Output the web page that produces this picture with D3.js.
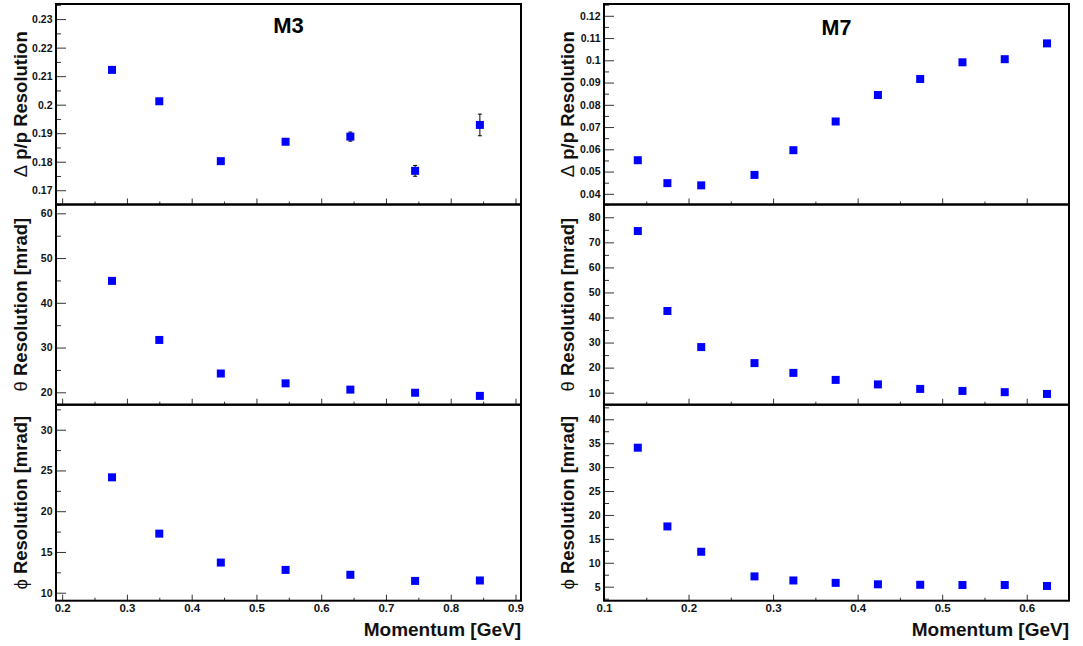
<!DOCTYPE html>
<html>
<head>
<meta charset="utf-8">
<script src="https://cdn.jsdelivr.net/npm/d3@7"></script>
<style>
  html, body { margin: 0; padding: 0; background: #fff; }
  svg { display: block; font-family: "Liberation Sans", Arial, Helvetica, sans-serif; }
</style>
</head>
<body>
<svg id="chart" width="1083" height="646"></svg>
<script>
// ---------------- data ----------------
const m3Momentum = [0.277, 0.35, 0.445, 0.545, 0.645, 0.745, 0.845];
const m3DpRes    = [0.2122, 0.2012, 0.1802, 0.1870, 0.1888, 0.1768, 0.1929];
const m3DpErr    = [0.0006, 0.0006, 0.0007, 0.0009, 0.0016, 0.0019, 0.0038];
const m3Theta    = [44.9, 31.7, 24.2, 22.0, 20.6, 19.9, 19.2];
const m3Phi      = [24.16, 17.25, 13.7, 12.8, 12.2, 11.45, 11.5];

const m7Momentum = [0.14, 0.175, 0.215, 0.278, 0.324, 0.374, 0.424, 0.474, 0.524, 0.574, 0.624];
const m7DpRes    = [0.0551, 0.0448, 0.0438, 0.0485, 0.0596, 0.0725, 0.0844, 0.0916, 0.0991, 0.1005, 0.1076];
const m7Theta    = [74.5, 42.6, 28.2, 21.8, 17.9, 15.1, 13.3, 11.5, 10.7, 10.2, 9.5];
const m7Phi      = [34.06, 17.6, 12.3, 7.15, 6.3, 5.8, 5.5, 5.4, 5.35, 5.35, 5.15];

const m3XTicks   = [0.2, 0.3, 0.4, 0.5, 0.6, 0.7, 0.8, 0.9];
const m7XTicks   = [0.1, 0.2, 0.3, 0.4, 0.5, 0.6];
const m3DpTicks  = [0.17, 0.18, 0.19, 0.2, 0.21, 0.22, 0.23];
const m7DpTicks  = [0.04, 0.05, 0.06, 0.07, 0.08, 0.09, 0.1, 0.11, 0.12];
const m3ThTicks  = [20, 30, 40, 50, 60];
const m7ThTicks  = [10, 20, 30, 40, 50, 60, 70, 80];
const m3PhTicks  = [10, 15, 20, 25, 30];
const m7PhTicks  = [5, 10, 15, 20, 25, 30, 35, 40];

const titles     = ["M3", "M7"];
const yTitles    = [["\u0394", " p/p Resolution"], ["\u03b8", " Resolution [mrad]"], ["\u03d5", " Resolution [mrad]"]];
const xTitle     = "Momentum [GeV]";

// ---------------- layout ----------------
const svg = d3.select("#chart");
const FONT = '"Liberation Sans", Arial, Helvetica, sans-serif';

const cols = [
  { left: 56, right: 521, xdom: [0.1905, 0.9085], xticks: m3XTicks, x: m3Momentum,
    title: titles[0], titleSize: 22, titleY: 32.7, ytitleX: 27,
    panels: [
      { ydom: [0.1650, 0.2353], ticks: m3DpTicks, y: m3DpRes, err: m3DpErr },
      { ydom: [17.23, 61.97], ticks: m3ThTicks, y: m3Theta },
      { ydom: [9.02, 33.07], ticks: m3PhTicks, y: m3Phi }
    ] },
  { left: 604, right: 1069, xdom: [0.1, 0.65], xticks: m7XTicks, x: m7Momentum,
    title: titles[1], titleSize: 21.5, titleY: 34.5, ytitleX: 574,
    panels: [
      { ydom: [0.0352, 0.1253], ticks: m7DpTicks, y: m7DpRes },
      { ydom: [5.2, 85.1], ticks: m7ThTicks, y: m7Theta },
      { ydom: [2.07, 43.05], ticks: m7PhTicks, y: m7Phi }
    ] }
];
const rows = [[4, 204.5], [204.5, 404.7], [404.7, 600.7]];

const fmt = d => String(+(+d).toFixed(4));
function midpoints(t) {
  const step = t[1] - t[0];
  const out = [];
  out.push(t[0] - step / 2);
  for (let i = 0; i < t.length; i++) out.push(t[i] + step / 2);
  return out;
}

cols.forEach(col => {
  const x = d3.scaleLinear().domain(col.xdom).range([col.left, col.right]);
  const xMinor = midpoints(col.xticks).filter(v => v > col.xdom[0] && v < col.xdom[1]);

  col.panels.forEach((p, ri) => {
    const [top, bottom] = rows[ri];
    const y = d3.scaleLinear().domain(p.ydom).range([bottom, top]);
    const yMinor = midpoints(p.ticks).filter(v => v > p.ydom[0] && v < p.ydom[1]);
    const g = svg.append("g");

    // y axis (major)
    const ya = g.append("g").attr("transform", `translate(${col.left},0)`)
      .call(d3.axisLeft(y).tickValues(p.ticks).tickSize(-10).tickPadding(3.5).tickFormat(fmt));
    ya.select(".domain").remove();
    ya.selectAll("line").attr("stroke", "#333");
    ya.selectAll("text").attr("font-family", FONT).attr("font-size", 10.5)
      .attr("font-weight", "bold").attr("fill", "#111");
    // y axis (minor)
    const yam = g.append("g").attr("transform", `translate(${col.left},0)`)
      .call(d3.axisLeft(y).tickValues(yMinor).tickSize(-5).tickFormat(""));
    yam.select(".domain").remove();
    yam.selectAll("line").attr("stroke", "#333");

    // x axis
    const isBottom = ri === rows.length - 1;
    const xa = g.append("g").attr("transform", `translate(0,${bottom})`)
      .call(d3.axisBottom(x).tickValues(col.xticks).tickSize(-6).tickPadding(3)
        .tickFormat(isBottom ? fmt : ""));
    xa.select(".domain").remove();
    xa.selectAll("line").attr("stroke", "#333");
    xa.selectAll("text").attr("font-family", FONT).attr("font-size", 11.5)
      .attr("font-weight", "bold").attr("fill", "#111");
    const xam = g.append("g").attr("transform", `translate(0,${bottom})`)
      .call(d3.axisBottom(x).tickValues(xMinor).tickSize(-3).tickFormat(""));
    xam.select(".domain").remove();
    xam.selectAll("line").attr("stroke", "#333");

    // error bars
    if (p.err) {
      const eb = g.append("g").attr("stroke", "#000").attr("stroke-width", 1);
      p.y.forEach((v, i) => {
        const cx = x(col.x[i]);
        eb.append("line").attr("x1", cx).attr("x2", cx)
          .attr("y1", y(v - p.err[i])).attr("y2", y(v + p.err[i]));
        [v - p.err[i], v + p.err[i]].forEach(e => {
          eb.append("line").attr("x1", cx - 2).attr("x2", cx + 2)
            .attr("y1", y(e)).attr("y2", y(e));
        });
      });
    }

    // markers
    g.append("g").selectAll("rect").data(p.y).join("rect")
      .attr("x", (v, i) => x(col.x[i]) - 4)
      .attr("y", v => y(v) - 4)
      .attr("width", 8).attr("height", 8)
      .attr("fill", "#0000ff");

    // frame
    g.append("rect").attr("x", col.left).attr("y", top)
      .attr("width", col.right - col.left).attr("height", bottom - top)
      .attr("fill", "none").attr("stroke", "#000").attr("stroke-width", 2);

    // y title
    const yt = g.append("text")
      .attr("transform", `translate(${col.ytitleX},${(top + bottom) / 2}) rotate(-90)`)
      .attr("text-anchor", "middle").attr("font-family", FONT)
      .attr("font-size", 18.5).attr("fill", "#111");
    yt.append("tspan").attr("font-weight", "normal").text(yTitles[ri][0]);
    yt.append("tspan").attr("font-weight", "bold").text(yTitles[ri][1]);
  });

  // column title
  svg.append("text").attr("x", (col.left + col.right) / 2).attr("y", col.titleY)
    .attr("text-anchor", "middle").attr("font-family", FONT)
    .attr("font-size", col.titleSize).attr("font-weight", "bold").attr("fill", "#000")
    .text(col.title);

  // x title
  svg.append("text").attr("x", col.right).attr("y", 636)
    .attr("text-anchor", "end").attr("font-family", FONT)
    .attr("font-size", 19).attr("font-weight", "bold").attr("fill", "#111")
    .text(xTitle);
});
</script>
</body>
</html>
